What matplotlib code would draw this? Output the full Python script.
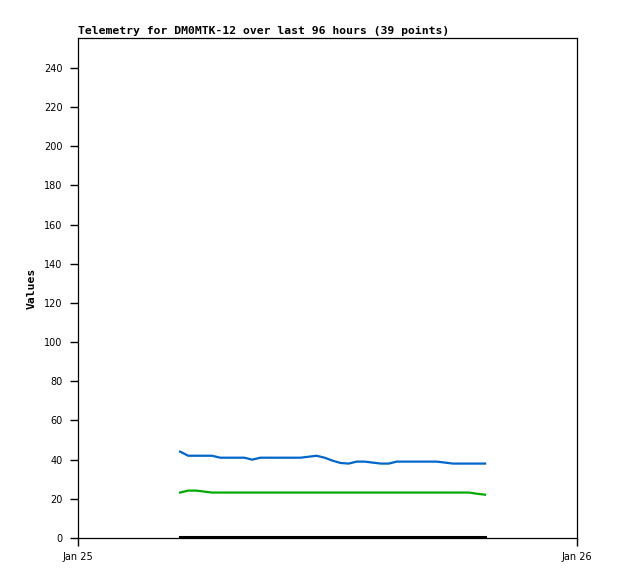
import matplotlib
matplotlib.use("Agg")
import matplotlib.pyplot as plt

# hours after Jan 25 00:00
hours = [4.91, 5.30, 5.68, 6.07, 6.45, 6.84, 7.23, 7.61, 8.00, 8.38,
         8.77, 9.16, 9.54, 9.93, 10.31, 10.70, 11.09, 11.47, 11.86, 12.24,
         12.63, 13.02, 13.40, 13.79, 14.17, 14.56, 14.95, 15.33, 15.72, 16.10,
         16.49, 16.88, 17.26, 17.65, 18.03, 18.42, 18.81, 19.19, 19.58]

blue = [44.1, 42.0, 42.0, 42.0, 42.0, 41.0, 41.0, 41.0, 41.0, 40.0,
        41.0, 41.0, 41.0, 41.0, 41.0, 41.0, 41.5, 42.0, 41.0, 39.5,
        38.3, 38.0, 39.0, 39.0, 38.5, 38.0, 38.0, 39.0, 39.0, 39.0,
        39.0, 39.0, 39.0, 38.5, 38.0, 38.0, 38.0, 38.0, 38.0]

green = [23.2, 24.2, 24.2, 23.7, 23.2, 23.2, 23.2, 23.2, 23.2, 23.2,
         23.2, 23.2, 23.2, 23.2, 23.2, 23.2, 23.2, 23.2, 23.2, 23.2,
         23.2, 23.2, 23.2, 23.2, 23.2, 23.2, 23.2, 23.2, 23.2, 23.2,
         23.2, 23.2, 23.2, 23.2, 23.2, 23.2, 23.2, 22.6, 22.1]

black = [0.4] * 39

yticks = [0, 20, 40, 60, 80, 100, 120, 140, 160, 180, 200, 220, 240]
xtick_pos = [0, 24]
xtick_labels = ["Jan 25", "Jan 26"]

fig = plt.figure(figsize=(6.18, 5.79), dpi=100)
ax = fig.add_axes([78 / 618, 1 - 538 / 579, 499 / 618, 500 / 579])

ax.plot(hours, black, color="#000000", lw=2.2)
ax.plot(hours, green, color="#00aa00", lw=1.6)
ax.plot(hours, blue, color="#0066cc", lw=1.6)

ax.set_xlim(0, 24)
ax.set_ylim(0, 255.3)
ax.set_yticks(yticks)
ax.set_yticklabels([str(v) for v in yticks], fontsize=7, family="DejaVu Sans")
ax.set_xticks(xtick_pos)
ax.set_xticklabels(xtick_labels, fontsize=7, family="DejaVu Sans")
ax.tick_params(axis="y", direction="out", length=6, width=1, pad=5)
ax.tick_params(axis="x", direction="out", length=6, width=1, pad=4)
for s in ax.spines.values():
    s.set_linewidth(0.9)

ax.set_title("Telemetry for DM0MTK-12 over last 96 hours (39 points)",
             loc="left", fontsize=8.2, fontweight="bold",
             family="DejaVu Sans Mono", pad=3)
ax.set_ylabel("Values", fontsize=8.2, fontweight="bold",
              family="DejaVu Sans Mono", labelpad=5)

fig.savefig("out.png", dpi=100)
